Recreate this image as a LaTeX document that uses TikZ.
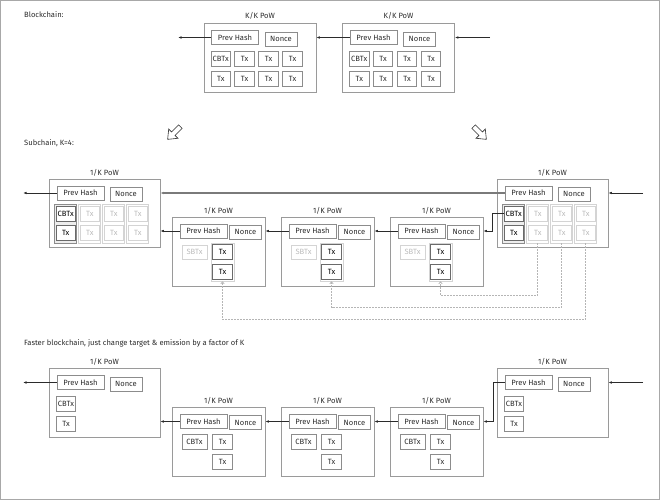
\documentclass[tikz,border=0pt]{standalone}
\usepackage{fontspec}
\setmainfont{Fira Sans}
\usepackage{xcolor}
\usepackage{tikz}
\usetikzlibrary{arrows.meta}
\definecolor{DiagramInk}{HTML}{2B2B2B}
\definecolor{PageLine}{HTML}{A8A8A8}
\definecolor{BlockLine}{HTML}{9A9A9A}
\definecolor{BoxLine}{HTML}{8C8C8C}
\definecolor{LiveLine}{HTML}{6A6A6A}
\definecolor{ColumnFill}{HTML}{EDEDED}
\definecolor{FadedLine}{HTML}{D4D4D4}
\definecolor{FadedText}{HTML}{BBBBBB}
\definecolor{FeedLine}{HTML}{B5B5B5}
\definecolor{ChainLine}{HTML}{7A7A7A}
\newcommand{\KBlock}[3]{%
  \node[blockframe,minimum width=112pt,minimum height=69pt] (#1) at (#2+56,#3+34.5) {};
  \node[title] (#1-t) at (#2+56,#3-7) {K/K PoW};
  \node[hashbox] (#1-ph) at (#2+31,#3+14.5) {Prev Hash};
  \node[noncebox] (#1-nc) at (#2+77,#3+16) {Nonce};
  \node[txbox] (#1-a1) at (#2+16.75,#3+35.5) {CBTx};
  \node[txbox] (#1-a2) at (#2+40.5,#3+35.5) {Tx};
  \node[txbox] (#1-a3) at (#2+64.5,#3+35.5) {Tx};
  \node[txbox] (#1-a4) at (#2+88.5,#3+35.5) {Tx};
  \node[txbox] (#1-b1) at (#2+16.75,#3+55.5) {Tx};
  \node[txbox] (#1-b2) at (#2+40.5,#3+55.5) {Tx};
  \node[txbox] (#1-b3) at (#2+64.5,#3+55.5) {Tx};
  \node[txbox] (#1-b4) at (#2+88.5,#3+55.5) {Tx};
}
\newcommand{\SubHead}[3]{%
  \node[blockframe,minimum width=111pt,minimum height=68pt] (#1) at (#2+55.5,#3+34) {};
  \node[title] (#1-t) at (#2+55.5,#3-6.5) {1/K PoW};
  \node[hashbox] (#1-ph) at (#2+31.5,#3+14) {Prev Hash};
  \node[noncebox] (#1-nc) at (#2+77,#3+15) {Nonce};
  \node[livecol] (#1-c1) at (#2+16.75,#3+44.5) {};
  \node[fadedcol] (#1-c2) at (#2+40.75,#3+44.5) {};
  \node[fadedcol] (#1-c3) at (#2+64.75,#3+44.5) {};
  \node[fadedcol] (#1-c4) at (#2+88.75,#3+44.5) {};
  \node[livecell] (#1-c1a) at (#2+16.75,#3+34.5) {CBTx};
  \node[livecell] (#1-c1b) at (#2+16.75,#3+53.5) {Tx};
  \node[fadedcell] (#1-c2a) at (#2+40.75,#3+34.5) {Tx};
  \node[fadedcell] (#1-c2b) at (#2+40.75,#3+53.5) {Tx};
  \node[fadedcell] (#1-c3a) at (#2+64.75,#3+34.5) {Tx};
  \node[fadedcell] (#1-c3b) at (#2+64.75,#3+53.5) {Tx};
  \node[fadedcell] (#1-c4a) at (#2+88.75,#3+34.5) {Tx};
  \node[fadedcell] (#1-c4b) at (#2+88.75,#3+53.5) {Tx};
}
\newcommand{\SubBlock}[3]{%
  \node[blockframe,minimum width=93pt,minimum height=69pt] (#1) at (#2+46.5,#3+34.5) {};
  \node[title] (#1-t) at (#2+46.5,#3-6.5) {1/K PoW};
  \node[hashbox] (#1-ph) at (#2+31.5,#3+14) {Prev Hash};
  \node[noncebox] (#1-nc) at (#2+73.5,#3+15) {Nonce};
  \node[fadedcell,minimum width=25pt,minimum height=14pt] (#1-sb) at (#2+22.5,#3+35) {SBTx};
  \node[fadedcol,minimum width=23pt,minimum height=38pt] (#1-col) at (#2+50.5,#3+45) {};
  \node[livecell] (#1-t1) at (#2+50.5,#3+35) {Tx};
  \node[livecell] (#1-t2) at (#2+50.5,#3+54.5) {Tx};
}
\newcommand{\FastHead}[3]{%
  \node[blockframe,minimum width=111pt,minimum height=69pt] (#1) at (#2+55.5,#3+34.5) {};
  \node[title] (#1-t) at (#2+55.5,#3-6.5) {1/K PoW};
  \node[hashbox] (#1-ph) at (#2+31.5,#3+14.5) {Prev Hash};
  \node[noncebox] (#1-nc) at (#2+77,#3+16) {Nonce};
  \node[txbox] (#1-cb) at (#2+17,#3+35.5) {CBTx};
  \node[txbox] (#1-t1) at (#2+17,#3+55.5) {Tx};
}
\newcommand{\FastBlock}[3]{%
  \node[blockframe,minimum width=93pt,minimum height=69pt] (#1) at (#2+46.5,#3+34.5) {};
  \node[title] (#1-t) at (#2+46.5,#3-6.5) {1/K PoW};
  \node[hashbox] (#1-ph) at (#2+31.5,#3+14.5) {Prev Hash};
  \node[noncebox] (#1-nc) at (#2+73.5,#3+15.5) {Nonce};
  \node[txbox,minimum width=25pt] (#1-cb) at (#2+22.5,#3+35) {CBTx};
  \node[txbox] (#1-t1) at (#2+50.5,#3+35) {Tx};
  \node[txbox] (#1-t2) at (#2+50.5,#3+54.5) {Tx};
}
\newcommand{\HollowArrow}[3]{%
  \draw[hollow,shift={(#1,#2)},rotate=#3]
    (-9,-2.5) -- (1,-2.5) -- (1,-6.5) -- (9,0) -- (1,6.5) -- (1,2.5) -- (-9,2.5) -- cycle;
}

\begin{document}
\begin{tikzpicture}[
  x=1pt,y=-1pt,
  font=\fontsize{7.6}{9}\selectfont,
  text=DiagramInk,
  blockframe/.style={draw=BlockLine,line width=0.7pt,inner sep=0pt},
  title/.style={inner sep=0pt},
  section/.style={inner sep=0pt,anchor=west},
  hashbox/.style={draw=BoxLine,line width=0.7pt,inner sep=0pt,
                  minimum width=47pt,minimum height=14pt},
  noncebox/.style={hashbox,minimum width=32pt},
  txbox/.style={hashbox,minimum width=19.5pt,minimum height=15pt},
  livecol/.style={draw=BoxLine,fill=ColumnFill,line width=0.7pt,inner sep=0pt,
                  minimum width=22pt,minimum height=39pt},
  livecell/.style={txbox,draw=LiveLine,fill=white,line width=0.8pt,text=black},
  fadedcol/.style={draw=FadedLine,line width=0.7pt,inner sep=0pt,
                   minimum width=22pt,minimum height=39pt},
  fadedcell/.style={txbox,draw=FadedLine,text=FadedText},
  link/.style={draw=DiagramInk,line width=0.7pt,-{Latex[length=3.5pt,width=2.6pt]}},
  chain/.style={link,draw=ChainLine,line width=1.1pt},
  feed/.style={draw=FeedLine,line width=0.7pt,dash pattern=on 1.5pt off 1.5pt,
               -{Straight Barb[length=2pt,width=3.5pt]}},
  hollow/.style={draw=DiagramInk,line width=0.6pt,line join=miter},
]
  \useasboundingbox (0,0) rectangle (662,500);
  \draw[PageLine] (0.5,0.5) rectangle (659.5,499.3);

  \node[section] (lblChain) at (24,15) {Blockchain:};
  \KBlock{kA}{204}{23}
  \KBlock{kB}{342.5}{23}
  \coordinate (kOut) at (178,37.5);
  \coordinate (kIn) at (490,37.5);
  \draw[link] (kA-ph.west) -- (kOut);
  \draw[link] (kB-ph.west) -- (kB-ph.west -| kA.east);
  \draw[link] (kIn) -- (kIn -| kB.east);

  \HollowArrow{174}{133}{225}
  \HollowArrow{480}{133}{-45}

  \node[section] (lblSub) at (24,143) {Subchain, K=4:};
  \SubHead{sL}{49}{179}
  \SubHead{sR}{497}{179}
  \SubBlock{sA}{172}{217}
  \SubBlock{sB}{281}{217}
  \SubBlock{sC}{390}{217}
  \coordinate (sOut) at (23,193);
  \coordinate (sIn) at (643,193);
  \draw[link] (sL-ph.west) -- (sOut);
  \draw[chain] (sR-ph.west) -- (sR-ph.west -| sL.east);
  \draw[link] (sIn) -- (sIn -| sR.east);
  \draw[link] (sA-ph.west) -- (sA-ph.west -| sL.east);
  \draw[link] (sB-ph.west) -- (sB-ph.west -| sA.east);
  \draw[link] (sC-ph.west) -- (sC-ph.west -| sB.east);
  \draw[link] (sR-c1a.west) -- ++(-11,0) |- (sC-ph.west -| sC.east);
  \draw[feed] (sR-c2.south) -- ++(0,52) -| (sC-col.south);
  \draw[feed] (sR-c3.south) -- ++(0,64) -| (sB-col.south);
  \draw[feed] (sR-c4.south) -- ++(0,76) -| (sA-col.south);

  \node[section] (lblFast) at (24,343)
    {Faster blockchain, just change target \& emission by a factor of K};
  \FastHead{fL}{49}{368}
  \FastHead{fR}{497}{368}
  \FastBlock{fA}{172}{407}
  \FastBlock{fB}{281}{407}
  \FastBlock{fC}{390}{407}
  \coordinate (fOut) at (23,382.5);
  \coordinate (fIn) at (643,382.5);
  \draw[link] (fL-ph.west) -- (fOut);
  \draw[link] (fA-ph.west) -- (fA-ph.west -| fL.east);
  \draw[link] (fB-ph.west) -- (fB-ph.west -| fA.east);
  \draw[link] (fC-ph.west) -- (fC-ph.west -| fB.east);
  \draw[link] (fR-ph.west) -- ++(-11,0) |- (fC-ph.west -| fC.east);
  \draw[link] (fIn) -- (fIn -| fR.east);
\end{tikzpicture}
\end{document}
